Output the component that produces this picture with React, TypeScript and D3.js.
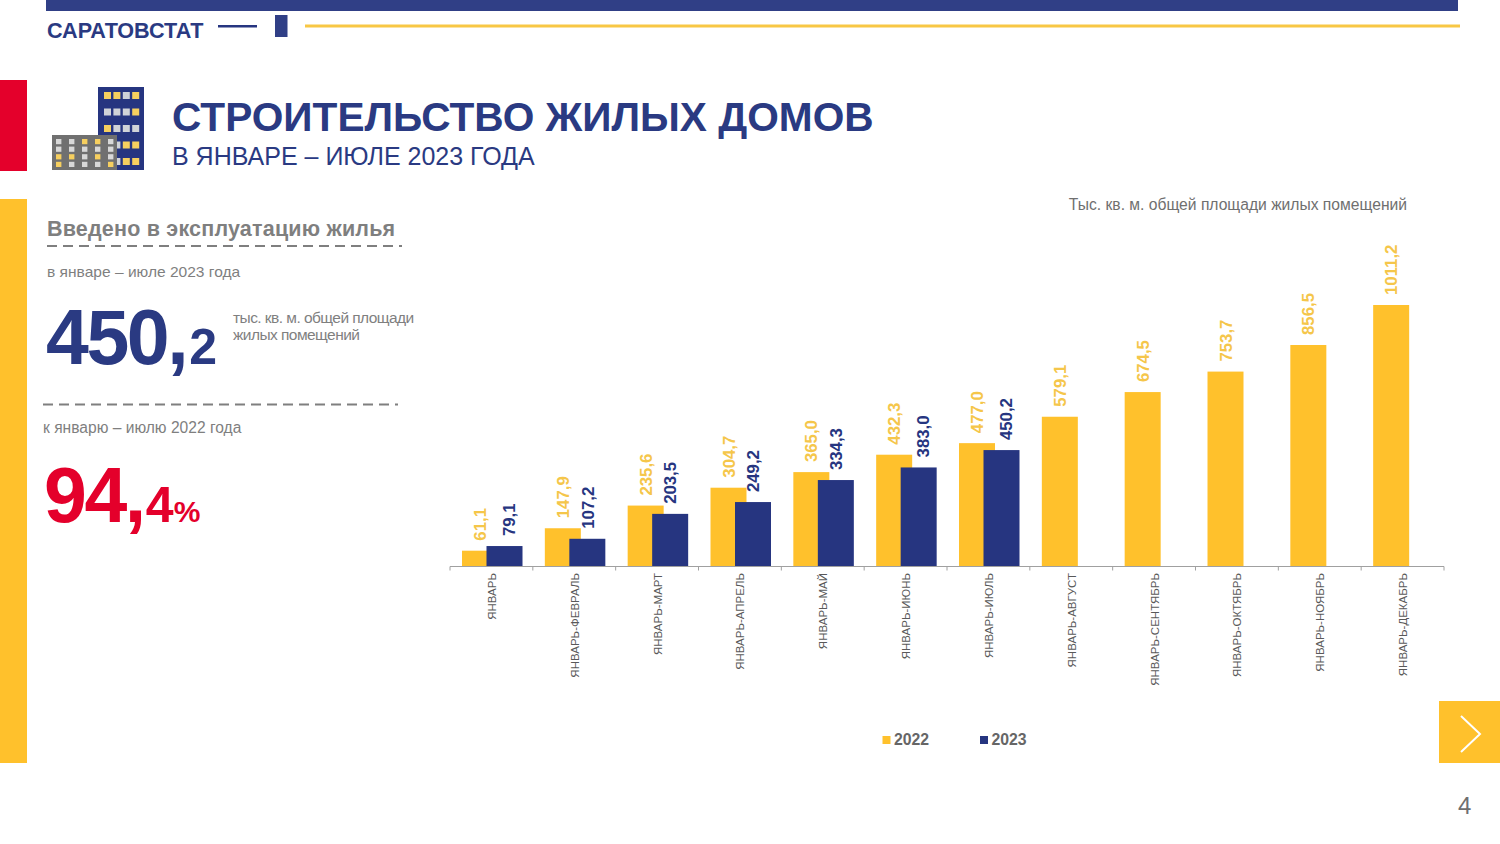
import * as d3 from "d3";

const categories = [
	"ЯНВАРЬ",
	"ЯНВАРЬ-ФЕВРАЛЬ",
	"ЯНВАРЬ-МАРТ",
	"ЯНВАРЬ-АПРЕЛЬ",
	"ЯНВАРЬ-МАЙ",
	"ЯНВАРЬ-ИЮНЬ",
	"ЯНВАРЬ-ИЮЛЬ",
	"ЯНВАРЬ-АВГУСТ",
	"ЯНВАРЬ-СЕНТЯБРЬ",
	"ЯНВАРЬ-ОКТЯБРЬ",
	"ЯНВАРЬ-НОЯБРЬ",
	"ЯНВАРЬ-ДЕКАБРЬ",
];
const values2022 = [61.1, 147.9, 235.6, 304.7, 365.0, 432.3, 477.0, 579.1, 674.5, 753.7, 856.5, 1011.2];
const values2023 = [79.1, 107.2, 203.5, 249.2, 334.3, 383.0, 450.2];
const years = ["2022", "2023"];

const NAVY = "#263580";
const TITLE_NAVY = "#2a3a82";
const YELLOW = "#ffc12c";
const LABEL_YELLOW = "#f5c64a";
const RED = "#e4002b";
const GRAY = "#7f7f7f";
const FONT = "'Liberation Sans', Arial, sans-serif";

const AXIS_LEFT = 450;
const AXIS_RIGHT = 1444;
const BASELINE = 566.5;
const BAR_WIDTH = 36;
const BAR_OFFSET = 24.5;
// some 2023 labels were moved by hand in the original, sideways so they clear the yellow bar
const LABEL_NUDGE_2023 = [4, 1, 0, 0, 0, 4, 4];

const x = d3.scaleBand<string>().domain(categories).range([AXIS_LEFT, AXIS_RIGHT]);
const y = d3.scaleLinear().domain([0, 1011.2]).range([BASELINE, 305]);
const fmt = (v: number) => d3.format(".1f")(v).replace(".", ",");

// windows of the little houses, 1 = lit
const towerWindows = [
	[1, 1, 0, 1],
	[0, 0, 0, 1],
	[1, 0, 0, 0],
	[0, 0, 1, 1],
	[0, 0, 1, 1],
];
const houseWindows = [
	[0, 0, 1, 1, 0],
	[0, 0, 0, 0, 0],
	[1, 1, 0, 1, 0],
	[1, 0, 0, 0, 1],
];

function Icon() {
	return (
		<g>
			<rect x={98} y={87} width={46} height={83} fill={NAVY} />
			{towerWindows.map((row, r) =>
				row.map((lit, c) => (
					<rect
						key={`t${r}${c}`}
						x={104 + c * 9.4}
						y={92 + r * 16.5}
						width={7}
						height={7}
						fill={lit ? "#f6cf5f" : "#d0d3d8"}
					/>
				))
			)}
			<rect x={52} y={135} width={65} height={35} fill="#707070" />
			{houseWindows.map((row, r) =>
				row.map((lit, c) => (
					<rect
						key={`h${r}${c}`}
						x={56 + c * 13}
						y={139 + r * 7.6}
						width={5.4}
						height={5.2}
						fill={lit ? "#f6cf5f" : "#d8d8d8"}
					/>
				))
			)}
		</g>
	);
}

type BarsProps = {
	values: number[];
	color: string;
	labelColor: string;
	shift: number;
	nudge?: number[];
};

function Bars({ values, color, labelColor, shift, nudge }: BarsProps) {
	return (
		<g>
			{values.map((v, i) => {
				const left = (x(categories[i]) as number) + shift;
				const cx = left + BAR_WIDTH / 2 + (nudge ? nudge[i] : 0);
				const top = y(v);
				return (
					<g key={i}>
						<rect x={left} y={top} width={BAR_WIDTH} height={BASELINE - top} fill={color} />
						<text
							transform={`translate(${cx + 6},${top - 10}) rotate(-90)`}
							fontSize={16.8}
							fontWeight="bold"
							fill={labelColor}
						>
							{fmt(v)}
						</text>
					</g>
				);
			})}
		</g>
	);
}

export default function App() {
	const ticks = [...categories.map((c) => x(c) as number), AXIS_RIGHT];

	return (
		<svg
			width={1500}
			height={844}
			fontFamily={FONT}
			style={{ position: "absolute", left: 0, top: 0, background: "#fff" }}
		>
			{/* header */}
			<rect x={46} y={0} width={1412} height={11} fill="#303f86" />
			<text x={47} y={38} fontSize={21.6} fontWeight="bold" fill={TITLE_NAVY}>
				САРАТОВСТАТ
			</text>
			<rect x={218} y={25} width={39} height={2.5} fill={NAVY} />
			<rect x={275} y={15} width={12.5} height={22} fill="#303f86" />
			<rect x={305} y={24.5} width={1155} height={3} fill="#f8c744" />

			<rect x={0} y={80} width={27} height={91} fill={RED} />
			<rect x={0} y={199} width={27} height={564} fill={YELLOW} />
			<Icon />

			<text x={172} y={131} fontSize={40.65} fontWeight="bold" fill={TITLE_NAVY}>
				СТРОИТЕЛЬСТВО ЖИЛЫХ ДОМОВ
			</text>
			<text x={172} y={165} fontSize={25} fill={TITLE_NAVY}>
				В ЯНВАРЕ – ИЮЛЕ 2023 ГОДА
			</text>

			{/* left panel */}
			<text x={47} y={236} fontSize={21.5} fontWeight="bold" fill={GRAY} letterSpacing={0.2}>
				Введено в эксплуатацию жилья
			</text>
			<line x1={47} x2={402} y1={246} y2={246} stroke={GRAY} strokeWidth={2} strokeDasharray="10 6" />
			<text x={47} y={277} fontSize={15.55} fill={GRAY}>
				в январе – июле 2023 года
			</text>
			<text x={46} y={364} fontWeight="bold" fill={TITLE_NAVY} fontSize={77} letterSpacing={-2.4}>
				450,
				<tspan fontSize={50} letterSpacing={0} dx={3}>
					2
				</tspan>
			</text>
			<text x={233} y={323} fontSize={15.5} fill={GRAY} letterSpacing={-0.55}>
				<tspan x={233}>тыс. кв. м. общей площади</tspan>
				<tspan x={233} dy={16.5}>
					жилых помещений
				</tspan>
			</text>
			<line x1={43} x2={398} y1={404.5} y2={404.5} stroke={GRAY} strokeWidth={2} strokeDasharray="10 6" />
			<text x={43} y={433} fontSize={15.6} fill={GRAY}>
				к январю – июлю 2022 года
			</text>
			<text x={44} y={522} fontWeight="bold" fill={RED} fontSize={77} letterSpacing={-2.4}>
				94,
				<tspan fontSize={50} letterSpacing={0} dx={2}>
					4
				</tspan>
				<tspan fontSize={30} letterSpacing={0}>
					%
				</tspan>
			</text>

			{/* chart */}
			<text x={1407} y={210} textAnchor="end" fontSize={15.65} fill="#6f6f6f">
				Тыс. кв. м. общей площади жилых помещений
			</text>
			<Bars values={values2022} color={YELLOW} labelColor={LABEL_YELLOW} shift={12} />
			<Bars
				values={values2023}
				color={NAVY}
				labelColor={NAVY}
				shift={12 + BAR_OFFSET}
				nudge={LABEL_NUDGE_2023}
			/>
			<line x1={AXIS_LEFT} x2={AXIS_RIGHT} y1={BASELINE} y2={BASELINE} stroke="#a0a0a0" strokeWidth={1.2} />
			{ticks.map((t, i) => (
				<line key={i} x1={t} x2={t} y1={BASELINE} y2={BASELINE + 4} stroke="#a0a0a0" />
			))}
			{categories.map((c) => (
				<text
					key={c}
					transform={`translate(${(x(c) as number) + x.bandwidth() / 2 + 4.5},573) rotate(-90)`}
					textAnchor="end"
					fontSize={11.5}
					fill="#595959"
				>
					{c}
				</text>
			))}

			{/* legend */}
			{years.map((yr, i) => (
				<g key={yr} transform={`translate(${882.5 + i * 97.5},736)`}>
					<rect width={8} height={8} fill={i === 0 ? YELLOW : NAVY} />
					<text x={11.5} y={9} fontSize={15.8} fontWeight="bold" fill="#666">
						{yr}
					</text>
				</g>
			))}

			{/* next button, page number */}
			<rect x={1439} y={701} width={61} height={62} fill={YELLOW} />
			<path d="M1461,716 L1480,734 L1461,752" fill="none" stroke="#fff" strokeWidth={2} />
			<text x={1458} y={814} fontSize={24} fill="#6f6f6f">
				4
			</text>
		</svg>
	);
}
